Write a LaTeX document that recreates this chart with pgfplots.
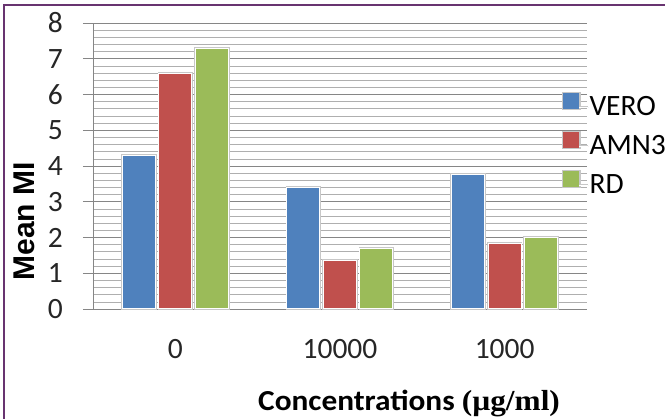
\documentclass[border=0pt]{standalone}
\usepackage{pgfplots}
\pgfplotsset{compat=1.18}
\usepackage{fontspec}
\setmainfont{Carlito}
\newfontfamily\arialfont{Liberation Sans}
\newfontfamily\timesfont{Liberation Serif}

\definecolor{vero}{RGB}{79,129,189}
\definecolor{amn}{RGB}{192,80,77}
\definecolor{rdc}{RGB}{155,187,89}
\definecolor{framec}{RGB}{104,52,112}
\definecolor{majgrid}{RGB}{134,134,134}
\definecolor{mingrid}{RGB}{175,175,175}

\tikzset{barshadow/.style={preaction={draw=black!22,line width=2.5pt}}}

\begin{document}
\begin{tikzpicture}[x=1pt,y=1pt]
\useasboundingbox (0,0) rectangle (665,419);
\clip (0,0) rectangle (665,419);
\fill[white] (0,0) rectangle (665,419);

\begin{axis}[
    at={(93pt,110pt)}, anchor=south west,
    scale only axis,
    width=494pt, height=286pt,
    ybar=3.5pt, bar width=33pt,
    xmin=-0.5, xmax=2.5,
    ymin=0, ymax=8,
    axis lines*=left,
    axis line style={majgrid, line width=0.8pt},
    xtick={0,1,2},
    xticklabels={0,10000,1000},
    minor xtick={-0.5,0.5,1.5,2.5},
    xtick style={draw=none},
    minor x tick style={majgrid, line width=0.8pt},
    ytick={0,1,...,8},
    minor ytick={0.2,0.4,...,7.9},
    minor y tick style={draw=none},
    y tick style={majgrid, line width=0.8pt},
    tick align=outside,
    major tick length=10pt,
    minor tick length=11pt,
    ymajorgrids, yminorgrids,
    major grid style={majgrid, line width=0.8pt},
    minor grid style={mingrid, line width=0.6pt},
    /pgf/number format/assume math mode=true,
    ticklabel style={font=\fontsize{29.5}{30}\selectfont, text=black!85},
    yticklabel style={inner sep=0pt, xshift=-20pt},
    xticklabel style={inner sep=0pt, yshift=-20pt},
    legend style={draw=none, fill=none, at={(rel axis cs:0.949,0.76)}, anchor=north west,
        font=\fontsize{29.5}{29.5}\selectfont, inner sep=0pt, row sep=13.5pt, column sep=0pt,
        nodes={inner sep=0pt}},
    legend cell align=left,
    legend image code/.code={\fill[barshadow/.style={}, #1, draw=none] (0pt,-2pt) rectangle (16pt,14pt);
        \path (16pt,0) -- (25pt,0);},
    clip=false,
]
\addplot[fill=vero, draw=white, line width=1pt, barshadow] coordinates {(0,4.3) (1,3.4) (2,3.77)};
\addlegendentry{VERO}
\addplot[fill=amn, draw=white, line width=1pt, barshadow] coordinates {(0,6.6) (1,1.35) (2,1.83)};
\addlegendentry{AMN3}
\addplot[fill=rdc, draw=white, line width=1pt, barshadow] coordinates {(0,7.3) (1,1.7) (2,2.0)};
\addlegendentry{RD}
\end{axis}

\node[rotate=90, anchor=base, font=\arialfont\bfseries\fontsize{30}{30}\selectfont] at (34,197.5) {Mean MI};
\node[anchor=base west, inner sep=0pt, font=\fontsize{29}{29}\selectfont\bfseries] at (258,8)
    {\scalebox{1.08}[1]{Concentrations {\timesfont (µg/ml)}}};

\draw[framec, line width=2pt] (4,0) -- (4,414) -- (665,414);
\end{tikzpicture}
\end{document}
